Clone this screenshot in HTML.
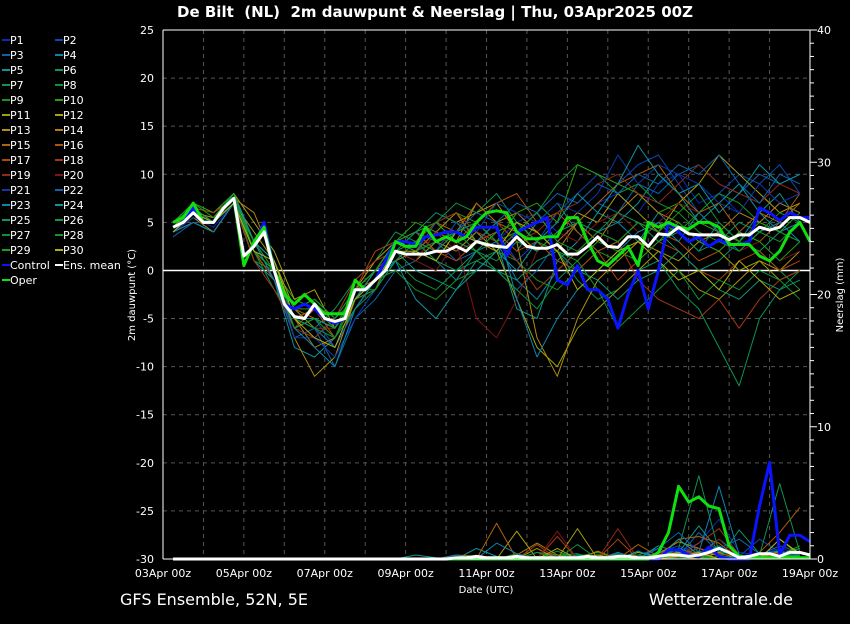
<!DOCTYPE html>
<html><head><meta charset="utf-8"><style>
body{margin:0;background:#000;width:850px;height:620px;overflow:hidden;font-family:"DejaVu Sans","Liberation Sans",sans-serif;}
svg text{fill:#fff;}
</style></head><body>
<svg id="c" width="850" height="620" xmlns="http://www.w3.org/2000/svg" style="font-family:'DejaVu Sans','Liberation Sans',sans-serif">
<text x="435" y="17" text-anchor="middle" font-size="15" font-weight="bold" style="white-space:pre">De Bilt  (NL)  2m dauwpunt &amp; Neerslag | Thu, 03Apr2025 00Z</text>
<text x="120" y="605" font-size="16">GFS Ensemble, 52N, 5E</text>
<text x="793" y="605" text-anchor="end" font-size="16">Wetterzentrale.de</text>
<text x="486" y="593" text-anchor="middle" font-size="10">Date (UTC)</text>
<text transform="translate(135,295) rotate(-90)" text-anchor="middle" font-size="10">2m dauwpunt (°C)</text>
<text transform="translate(843,295) rotate(-90)" text-anchor="middle" font-size="10">Neerslag (mm)</text>
<g id="grid"></g><g id="prec"></g><g id="temp"></g><g id="axes"></g><g id="legend"></g>
</svg>
<script>
const dayLabels=["03Apr 00z","05Apr 00z","07Apr 00z","09Apr 00z","11Apr 00z","13Apr 00z","15Apr 00z","17Apr 00z","19Apr 00z"];
const yTicks=[25,20,15,10,5,0,-5,-10,-15,-20,-25,-30];
const y2Ticks=[0,10,20,30,40];
const memberColors=["#0c28b8","#0c48b8","#0c64a8","#0c84a8","#0c9498","#0c9470","#0c9450","#0c9434","#189418","#28a00c","#a0a00c","#b0a00c","#b0900c","#b0800c","#b0640c","#b0540c","#b0440c","#a03818","#902818","#801414","#0c38a8","#0c64b0","#0c84b0","#0c94a0","#0c9470","#0c9450","#0c9434","#189428","#18a018","#b0b00c"];
const members=[
[4,5.5,4.5,7,2,1,-5,-4,-6,-3,-2,1,2,3,2,4,3,5,6,4,5,7,8,6,9,10,7,8,6,5,7,6],
[4.5,6.5,5,7.5,3,-1,-6,-5,-8,-4,-1,3,2,5,3,2,4,1,3,6,8,10,9,11,12,9,6,8,10,9,11,8],
[3.5,5,4,7,2,-1,-7,-6,-10,-5,-3,0,1,3,1,2,0,-2,0,3,5,7,6,9,8,10,11,9,8,10,9,10],
[4,6,5.5,8,3,0,-5,-4,-6,-3,0,3,2,1,-1,2,3,-1,-3,0,2,4,5,3,6,4,2,5,3,6,4,5],
[4,5,4,7,1,-1,-8,-9,-7,-3,-1,2,3,1,4,5,3,-4,-5,1,3,6,5,7,10,8,5,7,9,6,8,5],
[5,6.5,5,7.5,3,1,-4,-3,-5,-2,0,2,4,6,5,3,4,2,5,7,4,2,3,5,4,2,0,1,3,2,4,3],
[4.5,7,6,8,2,-2,-5,-6,-4,-1,1,4,3,5,7,6,8,5,3,2,-1,-3,-2,0,1,-2,-4,-8,-12,-5,-2,0],
[5,6,5,7,2,-1,-6,-5,-7,-2,-2,1,-1,-2,0,1,2,4,6,9,11,10,8,9,7,6,8,5,3,2,0,-2],
[4,6,5,7.5,1,0,-4,-3,-5,-3,-1,0,-2,-3,-1,0,2,1,-1,-2,0,2,1,3,5,4,6,8,7,5,4,3],
[5,7,6,8,3,0,-3,-4,-6,-2,0,3,5,4,6,5,3,6,7,5,11,10,9,8,6,7,5,4,3,5,4,6],
[4,6,5,7,4,1,-4,-6,-8,-4,-1,2,1,3,2,4,2,-3,-8,-10,-6,-4,-2,0,2,1,3,2,0,1,-1,0],
[4.5,6.5,5,8,5,2,-3,-2,-6,-2,1,3,4,2,5,6,7,4,2,4,6,5,8,6,4,7,9,12,10,8,6,7],
[4,5.5,4,7,3,0,-7,-11,-9,-3,-2,1,2,4,3,7,5,3,-7,-11,-5,-1,1,3,2,0,-2,-3,-1,1,0,2],
[4.5,6,5.5,7.5,6,1,-5,-8,-7,-3,0,3,2,4,6,3,5,6,4,2,5,3,6,8,6,5,3,4,6,5,7,6],
[5,6,5,7,2,0,-4,-5,-6,-2,-1,2,3,5,4,7,5,4,6,3,5,7,9,10,11,8,6,7,4,6,5,7],
[4.5,6,5,7,2,-1,-5,-4,-7,-3,-2,3,2,4,3,5,7,8,5,6,4,2,3,5,4,3,1,2,4,3,5,8],
[5,6.5,6,7.5,2,-1,-6,-4,-6,-2,2,3,4,2,1,3,4,2,3,1,0,2,-1,1,3,2,0,-1,1,2,0,1],
[4.5,6,5,7,1,-2,-6,-7,-5,-1,1,2,3,5,6,4,3,1,-2,0,2,4,3,-1,-3,-4,-5,-3,-6,-3,-1,0],
[4,5.5,5,7,3,0,-5,-6,-6,-2,0,2,1,4,2,3,5,3,4,6,7,9,10,8,7,9,11,9,8,7,9,8],
[4.5,6,5,7.5,2,0,-5,-5,-7,-3,-1,2,1,0,3,-5,-7,-3,2,4,3,5,6,4,5,7,6,4,2,3,1,2],
[4,5.5,5,7,2,0,-7,-7,-9,-5,-2,1,3,2,5,4,7,6,5,7,6,8,12,9,11,10,9,7,6,9,7,8],
[4.5,6,5,7.5,2,0,-5,-6,-8,-4,-1,3,4,3,4,6,5,7,6,8,7,9,8,10,9,11,10,12,9,7,10,9],
[4,5,4,7,3,-1,-6,-8,-10,-4,-1,1,3,2,4,3,5,-3,-9,-5,-2,0,2,4,5,3,6,4,2,4,5,3],
[4,6,5,8,3,1,-5,-5,-6,-3,0,1,-3,-5,-2,0,2,0,3,5,8,6,9,13,10,8,9,6,8,11,9,10],
[4.5,6,5,7,2,0,-6,-5,-6,-3,-1,2,0,-1,-2,1,0,-1,1,2,0,-1,-3,-1,0,2,0,-2,-3,-1,-2,-1],
[4,6,5,7.5,2,0,-5,-6,-7,-4,-2,1,3,1,0,2,1,3,2,4,5,4,6,5,3,4,2,3,5,4,6,5],
[5,6.5,5,7,3,0,-4,-3,-5,-2,0,3,2,3,4,2,0,-2,-4,-1,1,-2,-6,-4,-2,0,-3,-1,-2,0,-1,-3],
[4.5,6,5,7,2,0,-6,-5,-7,-3,-2,2,3,2,4,5,3,4,6,3,2,4,3,5,4,6,4,3,2,4,3,5],
[5,7,5.5,8,2,0,-4,-4,-6,-2,0,3,4,5,3,2,4,5,3,2,1,3,2,1,3,5,3,2,4,3,1,3],
[4,6,5,7,2,1,-5,-7,-8,-3,-1,2,2,1,4,3,2,5,4,2,-2,0,2,3,1,-1,0,-2,1,-1,-3,-2]];
const memberPrecip=[
[0,0,0,0,0,0,0,0,0,0,0,0,0,0,0,0,0,0,0,0,0,0,0,0,0.3,0.5,1.2,3,0.5,0.3,0.8,0.4],
[0,0,0,0,0,0,0,0,0,0,0,0,0,0,0,0,0,0,0,0,0,0.2,0,0,0.5,1,0.3,0,0.2,1.5,0.5,0.3],
[0,0,0,0,0,0,0,0,0,0,0,0,0,0,0,0.2,0,0,0,0,0,0,0,0.3,0.8,0.2,2,0.5,0,0.3,1,0.5],
[0,0,0,0,0,0,0,0,0,0,0,0,0,0,0,0,0,0,0,0,0.3,0,0.5,0,0.2,0.8,0.3,1.5,0.3,0,0.5,0.2],
[0,0,0,0,0,0,0,0,0,0,0,0,0.3,0.1,0,0.8,0.2,0,0.2,0,0,0,0.4,0,1,0.5,2.5,0.6,0.2,0,0.4,0.8],
[0,0,0,0,0,0,0,0,0,0,0,0,0,0,0,0,0,0,0.5,0.3,0.4,0,0.2,0,0.2,0.5,0.3,1,0,0.3,0.6,0.2],
[0,0,0,0,0,0,0,0,0,0,0,0,0,0,0,0,0,0,0,0,0,0,0,0,0,0.8,6.3,0.5,0,0.3,0.2,0],
[0,0,0,0,0,0,0,0,0,0,0,0,0,0,0,0,0,0.4,0,0.6,0,0,0,0,0.3,0.1,0.6,0.3,0,0.5,0.2,0],
[0,0,0,0,0,0,0,0,0,0,0,0,0,0,0,0,0,0,0,0.3,0.2,0.5,0,0,0.2,0,0.3,0,0,0.4,0.2,0.3],
[0,0,0,0,0,0,0,0,0,0,0,0,0,0,0,0,0,0,0,0,0,0,0,0,0,0,0,0.5,0,0.2,0.3,1],
[0,0,0,0,0,0,0,0,0,0,0,0,0,0,0,0,0,0,0,0,2.3,0,0,0.5,0.2,0,0.4,0,0,0,1.5,0.3],
[0,0,0,0,0,0,0,0,0,0,0,0,0,0,0,0,0,2.1,0,0.8,0,0,0,0,0.3,0.5,0.2,0.4,0.2,0,0.6,0],
[0,0,0,0,0,0,0,0,0,0,0,0,0,0,0,0,0,0,0.8,0,0,0,0.3,0,0,0.2,0,0.5,0,0.2,0,0.3],
[0,0,0,0,0,0,0,0,0,0,0,0,0,0,0.3,0.2,0,0.3,1.2,0.3,0,0.6,0,0,0.4,1.3,0.8,0.2,0,0.2,0.5,0],
[0,0,0,0,0,0,0,0,0,0,0,0,0,0,0,0,2.7,0,0,0,0,0.3,0,1.1,0.2,1.5,1.7,1.2,0,0.3,0.6,0.2],
[0,0,0,0,0,0,0,0,0,0,0,0,0,0,0,0,0,0,0,0,0,0,0,0,0,0,0.6,0,0,0.5,2,3.9],
[0,0,0,0,0,0,0,0,0,0,0,0,0,0,0,0,0,0,1.1,0,0,0,1.5,0,0,0.3,0.8,0.4,0.2,0,0.4,0.3],
[0,0,0,0,0,0,0,0,0,0,0,0,0,0,0,0,0,0,0,1.7,0,0,0,0,0,0.2,1.2,2.3,0.3,0,0.5,0],
[0,0,0,0,0,0,0,0,0,0,0,0,0,0,0,0,0,0,0,0,0,0,2.3,0,0,0.4,0.5,0,0.2,0,0.3,0.2],
[0,0,0,0,0,0,0,0,0,0,0,0,0,0,0,0,0,0,0,2.1,0,0,0,0,0.3,0,0,1.5,0,0.2,0,0],
[0,0,0,0,0,0,0,0,0,0,0,0,0,0,0,0,0,0,0,0,0,0,0,0.2,0,0.4,0.3,0,0.2,0.5,0.2,0.4],
[0,0,0,0,0,0,0,0,0,0,0,0,0,0,0,0,0,0,0,0,0,0,0,0,0.8,2,0.5,0.8,1.5,0.4,0.6,0.3],
[0,0,0,0,0,0,0,0,0,0,0,0,0,0,0.3,0,1.2,0.4,0,0,0,0,0,0,0.3,0,0.5,5.5,0.3,0,0.2,0.3],
[0,0,0,0,0,0,0,0,0,0,0,0,0,0,0,0.2,0,0,0,0,0,0.3,0,0.6,0,1.5,0.3,0.8,0,0.4,0.6,0],
[0,0,0,0,0,0,0,0,0,0,0,0,0,0,0,0,0,0,0,0,0.3,0,0,0,0,0.4,0.2,0,2.2,0.4,0.3,0.2],
[0,0,0,0,0,0,0,0,0,0,0,0,0,0,0,0,0,0,0,0,0,0,0,0,0,0,0.3,0,0.2,0.3,5.7,0.5],
[0,0,0,0,0,0,0,0,0,0,0,0,0,0,0,0,0,0,0.5,0,1.1,0,0,0,0.2,0,0.3,0,0,0.2,0,0.2],
[0,0,0,0,0,0,0,0,0,0,0,0,0,0,0,0,0,0,0,0,0,0,0,0,0,0,0.2,0,0,0.4,0.3,0.8],
[0,0,0,0,0,0,0,0,0,0,0,0,0,0,0,0,0,0,0,0,0,0,0,0.3,0,0,0,0.2,0,0,0.2,0.3],
[0,0,0,0,0,0,0,0,0,0,0,0,0,0,0,0,0,0,0,0,0,0.3,0,0,0,0.2,0.5,0,0,0,1.5,0.4]];
const ensMean=[4.5,5,6,5,5,6.5,7.5,1.5,2.5,4,0,-3.5,-4.8,-5,-3.5,-5,-5.3,-5,-2,-2,-1,0,2,1.7,1.7,1.7,2,2,2.5,2,3,2.7,2.5,2.4,3.5,2.5,2.3,2.3,2.7,1.7,1.7,2.5,3.5,2.5,2.4,3.5,3.5,2.5,3.8,3.7,4.5,3.8,3.7,3.7,3.7,3.2,3.7,3.7,4.5,4.2,4.5,5.5,5.5,5];
const control=[4.5,5,6.5,5,5,6.5,7.5,1.5,2.5,5,0,-3.5,-4,-3.5,-4,-5,-5.5,-5,-2,-2,-1,1,3,3,2.7,3.5,3.7,4,4,3.5,4.5,4.5,4.5,1.5,4,4.5,5,5.5,-1,-1.5,0.5,-2,-2,-3,-6,-2.5,0,-4,0,5,4,3,3.5,2.5,3.2,2.7,2.7,3,6.5,6,5.2,6,5.5,5.5];
const oper=[5,5.5,7,5,5,6.5,7.5,0.5,3,4.5,0,-2.5,-3.5,-2.5,-3.5,-4.5,-4.5,-4.5,-1,-2,-1,0,3,2.5,2.5,4.5,3,3.5,3,3.5,5,6,6.2,6,4,3.3,3.3,3.5,3.5,5.5,5.5,3,1,0.5,1.5,2.5,0.5,5,4.5,5,4.5,4.3,5,5,4.5,2.7,2.7,2.7,1.5,1,2,4,5,3];
const meanPrecip=[0,0,0,0,0,0,0,0,0,0,0,0,0,0,0,0,0,0,0,0,0,0,0,0,0,0,0,0,0.1,0.1,0.2,0.1,0.1,0.1,0.2,0.1,0.1,0.1,0.1,0.1,0.1,0.2,0.1,0.1,0.2,0.2,0.1,0.1,0.2,0.3,0.3,0.2,0.3,0.5,0.8,0.5,0.1,0.2,0.4,0.4,0.2,0.5,0.5,0.3];
const controlPrecip=[0,0,0,0,0,0,0,0,0,0,0,0,0,0,0,0,0,0,0,0,0,0,0,0,0,0,0,0,0,0,0,0,0,0,0,0,0,0,0,0,0,0,0,0,0,0,0,0,0,0.7,0.7,0.3,0.2,0.9,0.2,0,0,0,4,7.3,0.3,1.8,1.8,1.3];
const operPrecip=[0,0,0,0,0,0,0,0,0,0,0,0,0,0,0,0,0,0,0,0,0,0,0,0,0,0,0,0,0,0,0,0,0,0,0,0,0,0,0,0,0,0,0,0,0,0,0,0,0.5,2,5.5,4.3,4.7,4,3.8,1,0.2,0.1,0.1,0.1,0.1,0.1,0.1,0.1];

const NS="http://www.w3.org/2000/svg";
const X0=163,X1=810,Y0=30,Y1=559;
const xH=h=>X0+(X1-X0)*h/384;
const yT=v=>Y1-(v+30)*(Y1-Y0)/55;
const yP=v=>Y1-v*(Y1-Y0)/40;
function mk(tag,attrs,parent){const e=document.createElementNS(NS,tag);for(const k in attrs)e.setAttribute(k,attrs[k]);parent.appendChild(e);return e;}
const grid=document.getElementById('grid'),axes=document.getElementById('axes'),temp=document.getElementById('temp'),prec=document.getElementById('prec'),leg=document.getElementById('legend');
for(let d=1;d<16;d++){const l=mk('line',{x1:xH(d*24),x2:xH(d*24),y1:Y0,y2:Y1,stroke:'#555','stroke-dasharray':'4,4','stroke-width':1},grid);

}
yTicks.forEach(v=>{const l=mk('line',{x1:X0,x2:X1,y1:yT(v),y2:yT(v),stroke:'#555','stroke-dasharray':'4,4'},grid);


const t=mk('text',{x:X0-9,y:yT(v)+4,'text-anchor':'end','font-size':11},axes);t.textContent=v;

});
y2Ticks.forEach(v=>{const t=mk('text',{x:X1+7,y:yP(v)+4,'font-size':11},axes);t.textContent=v;

});
for(let m=0;m<=40;m++){const l=mk('line',{x1:X1,x2:X1+(m%10==0?7:4),y1:yP(m),y2:yP(m),stroke:'#fff'},axes);

}
dayLabels.forEach((s,i)=>{const t=mk('text',{x:xH(i*48),y:Y1+18,'text-anchor':'middle','font-size':11},axes);t.textContent=s;

});
[[X0,Y0,X0,Y1],[X1,Y0,X1,Y1],[X0,Y0,X1,Y0],[X0,Y1,X1,Y1]].forEach(a=>{const l=mk('line',{x1:a[0],y1:a[1],x2:a[2],y2:a[3],stroke:'#fff'},axes);

});
const z=mk('line',{x1:X0,x2:X1,y1:yT(0),y2:yT(0),stroke:'#fff','stroke-width':1.5},temp);


function poly(vals,hStart,hStep,yf,color,w,parent,name){
 const pts=vals.map((v,i)=>xH(hStart+i*hStep).toFixed(1)+','+yf(v).toFixed(1)).join(' ');
 const p=mk('polyline',{points:pts,fill:'none',stroke:color,'stroke-width':w,'stroke-linejoin':'round'},parent);
 
 
}
members.forEach((s,i)=>poly(s,6,12,yT,memberColors[i],1,temp,'member-p'+(i+1)+'-dewpoint'));
memberPrecip.forEach((s,i)=>poly(s,6,12,yP,memberColors[i],1,prec,'member-p'+(i+1)+'-precip'));
poly(controlPrecip,6,6,yP,'#0a14ff',3,prec,'control-precip');
poly(operPrecip,6,6,yP,'#10e010',3,prec,'oper-precip');
poly(meanPrecip,6,6,yP,'#ffffff',3,prec,'ens-mean-precip');
poly(control,6,6,yT,'#0a14ff',3,temp,'control-dewpoint');
poly(oper,6,6,yT,'#10e010',3,temp,'oper-dewpoint');
poly(ensMean,6,6,yT,'#ffffff',3,temp,'ens-mean-dewpoint');
const legNames=[],legColors=[];
for(let i=0;i<30;i++){legNames.push('P'+(i+1));legColors.push(memberColors[i]);}
legNames.push('Control','Ens. mean','Oper');legColors.push('#0a14ff','#ffffff','#10e010');
legNames.forEach((n,i)=>{const col=i%2,row=Math.floor(i/2);const x=col?55:2,y=40+row*15;
 const g=mk('g',{},leg);
 
 
 mk('line',{x1:x,x2:x+8,y1:y,y2:y,stroke:legColors[i],'stroke-width':2},g);
 const t=mk('text',{x:x+8,y:y+4,'font-size':11},g);t.textContent=n;});
</script>
</body></html>
